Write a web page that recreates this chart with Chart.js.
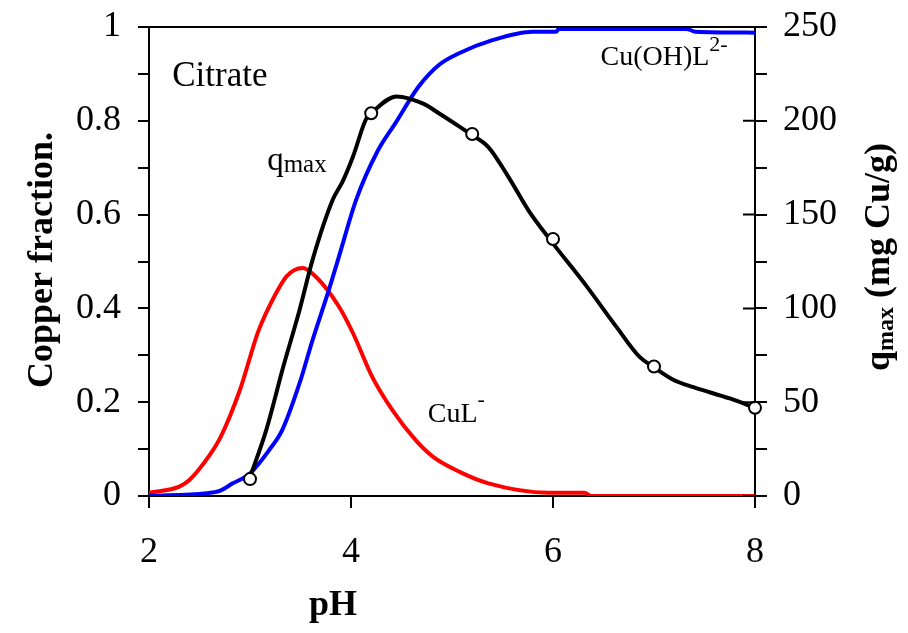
<!DOCTYPE html>
<html>
<head>
<meta charset="utf-8">
<script src="https://cdn.jsdelivr.net/npm/chart.js@4.4.0/dist/chart.umd.min.js"></script>
<style>
  html, body { margin: 0; padding: 0; background: #fff; }
</style>
</head>
<body>
<canvas id="speciationChart" width="908" height="633"></canvas>
<script>
// CuL- fraction vs pH (red)
const cuLPh   = [2.0, 2.3, 2.4, 2.6, 2.71, 2.9, 3.08, 3.19, 3.36, 3.44, 3.52, 3.65, 3.88, 4.02, 4.21, 4.41, 4.64, 4.81, 5.07, 5.36, 5.95, 6.31, 6.38, 7.0, 8.0];
const cuLFrac = [0.007, 0.02, 0.034, 0.087, 0.126, 0.226, 0.35, 0.404, 0.468, 0.482, 0.486, 0.468, 0.404, 0.347, 0.254, 0.183, 0.119, 0.084, 0.052, 0.027, 0.007, 0.007, 0.0, 0.0, 0.0];

// Cu(OH)L2- fraction vs pH (blue)
const cuOHLPh   = [2.0, 2.57, 2.70, 2.83, 3.0, 3.19, 3.32, 3.49, 3.62, 3.78, 3.88, 4.05, 4.26, 4.44, 4.67, 4.87, 5.07, 5.40, 5.80, 6.03, 6.06, 6.46, 7.32, 7.41, 8.0];
const cuOHLFrac = [0.0, 0.006, 0.011, 0.027, 0.048, 0.098, 0.141, 0.24, 0.333, 0.439, 0.51, 0.631, 0.734, 0.795, 0.873, 0.919, 0.944, 0.972, 0.99, 0.99, 0.996, 0.996, 0.996, 0.99, 0.988];

// qmax curve (black, right axis)
const qCurvePh  = [3.0, 3.16, 3.33, 3.49, 3.62, 3.82, 3.92, 4.02, 4.15, 4.22, 4.45, 4.72, 4.87, 5.07, 5.18, 5.36, 5.56, 5.76, 5.98, 6.33, 6.63, 6.86, 6.99, 7.19, 7.39, 7.75, 7.98];
const qCurveVal = [10, 35, 69, 99, 126, 158, 168, 181, 201, 205, 213, 209, 204, 197, 193, 186, 170, 152, 136, 112, 90, 74, 69, 62, 58, 52, 47.5];

// measured qmax points (open circles)
const qPointPh  = [3.0, 4.2, 5.2, 6.0, 7.0, 8.0];
const qPointVal = [9, 204, 193, 137, 69, 47];

const phTicks = [2, 4, 6, 8];

const SERIF = '"Liberation Serif", "Times New Roman", serif';

function toXY(xs, ys) {
  return xs.map((x, i) => ({ x: x, y: ys[i] }));
}

function runsWidth(ctx, runs) {
  let w = 0;
  runs.forEach(r => { ctx.font = r.font; w += ctx.measureText(r.text).width; });
  return w;
}

function drawRuns(ctx, x, y, runs) {
  let cx = x;
  runs.forEach(r => {
    ctx.font = r.font;
    ctx.fillText(r.text, cx, y + (r.dy || 0));
    cx += ctx.measureText(r.text).width;
  });
}

// titles, labels, top border and inner ticks on right axis
const decorPlugin = {
  id: 'decor',
  afterDraw(chart) {
    const ctx = chart.ctx;
    const area = chart.chartArea;
    const xs = chart.scales.x, ys = chart.scales.y, y2 = chart.scales.y2;
    ctx.save();
    ctx.strokeStyle = '#000';
    ctx.lineWidth = 2;
    ctx.beginPath();
    ctx.moveTo(area.left - 1, area.top);
    ctx.lineTo(area.right + 1, area.top);
    for (let v = 0; v <= 250; v += 50) {
      const py = y2.getPixelForValue(v);
      ctx.moveTo(area.right - 12, py);
      ctx.lineTo(area.right, py);
    }
    ctx.stroke();

    ctx.fillStyle = '#000';
    ctx.textBaseline = 'alphabetic';
    ctx.textAlign = 'left';

    // in-plot labels
    drawRuns(ctx, xs.getPixelForValue(2.23), ys.getPixelForValue(0.874),
      [{ text: 'Citrate', font: '35px ' + SERIF }]);
    drawRuns(ctx, xs.getPixelForValue(3.17), ys.getPixelForValue(0.695),
      [{ text: 'q', font: '33px ' + SERIF }, { text: 'max', font: '25px ' + SERIF, dy: 2 }]);
    drawRuns(ctx, xs.getPixelForValue(6.47), ys.getPixelForValue(0.919),
      [{ text: 'Cu(OH)L', font: '28px ' + SERIF }, { text: '2-', font: '22px ' + SERIF, dy: -14 }]);
    drawRuns(ctx, xs.getPixelForValue(4.76), ys.getPixelForValue(0.158),
      [{ text: 'CuL', font: '28px ' + SERIF }, { text: '-', font: '22px ' + SERIF, dy: -16 }]);

    // x title
    ctx.textAlign = 'center';
    ctx.font = 'bold 36px ' + SERIF;
    ctx.fillText('pH', 333, 615);

    // left title
    ctx.save();
    ctx.translate(52, 260);
    ctx.rotate(-Math.PI / 2);
    ctx.font = 'bold 36px ' + SERIF;
    ctx.fillText('Copper fraction.', 0, 0);
    ctx.restore();

    // right title with subscript
    ctx.save();
    ctx.translate(889, 257);
    ctx.rotate(-Math.PI / 2);
    ctx.textAlign = 'left';
    const rightRuns = [
      { text: 'q', font: 'bold 36px ' + SERIF },
      { text: 'max', font: 'bold 24px ' + SERIF, dy: 4 },
      { text: ' (mg Cu/g)', font: 'bold 36px ' + SERIF }
    ];
    drawRuns(ctx, -runsWidth(ctx, rightRuns) / 2, 0, rightRuns);
    ctx.restore();

    ctx.restore();
  }
};

const axisGrid = {
  drawOnChartArea: false,
  drawTicks: true,
  color: '#000',
  lineWidth: 2,
  tickWidth: 2,
  tickColor: '#000'
};

new Chart(document.getElementById('speciationChart'), {
  type: 'line',
  data: {
    datasets: [{
      label: 'qmax points',
      data: toXY(qPointPh, qPointVal),
      yAxisID: 'y2',
      showLine: false,
      pointStyle: 'circle',
      pointRadius: 6,
      pointBorderWidth: 2,
      pointBorderColor: '#000',
      pointBackgroundColor: '#fff',
      clip: false
    }, {
      label: 'qmax',
      data: toXY(qCurvePh, qCurveVal),
      yAxisID: 'y2',
      borderColor: '#000',
      borderWidth: 4,
      pointRadius: 0,
      cubicInterpolationMode: 'monotone'
    }, {
      label: 'Cu(OH)L2-',
      data: toXY(cuOHLPh, cuOHLFrac),
      yAxisID: 'y',
      borderColor: '#0000ff',
      borderWidth: 4,
      pointRadius: 0,
      cubicInterpolationMode: 'monotone'
    }, {
      label: 'CuL-',
      data: toXY(cuLPh, cuLFrac),
      yAxisID: 'y',
      borderColor: '#ff0000',
      borderWidth: 4,
      pointRadius: 0,
      cubicInterpolationMode: 'monotone'
    }]
  },
  options: {
    responsive: false,
    animation: false,
    layout: { padding: { top: 27, left: 0, right: 0, bottom: 0 } },
    plugins: {
      legend: { display: false },
      tooltip: { enabled: false }
    },
    scales: {
      x: {
        type: 'linear',
        min: 2,
        max: 8,
        afterBuildTicks(s) { s.ticks = phTicks.map(v => ({ value: v })); },
        ticks: {
          font: { family: SERIF, size: 36 },
          color: '#000',
          padding: 23,
          maxRotation: 0,
          callback: v => String(v)
        },
        grid: Object.assign({}, axisGrid, { tickLength: 12 }),
        border: { display: true, color: '#000', width: 2 },
        afterFit(s) { s.height = 137; s.paddingLeft = 0; s.paddingRight = 0; }
      },
      y: {
        position: 'left',
        min: 0,
        max: 1,
        ticks: {
          stepSize: 0.1,
          font: { family: SERIF, size: 36 },
          color: '#000',
          padding: 17,
          callback: v => {
            const k = Math.round(v * 10);
            if (k % 2 !== 0) return '';
            return k === 0 ? '0' : k === 10 ? '1' : (k / 10).toFixed(1);
          }
        },
        grid: Object.assign({}, axisGrid, { tickLength: 11 }),
        border: { display: true, color: '#000', width: 2 },
        afterFit(s) { s.width = 149; s.paddingTop = 0; s.paddingBottom = 0; }
      },
      y2: {
        position: 'right',
        min: 0,
        max: 250,
        ticks: {
          stepSize: 25,
          font: { family: SERIF, size: 36 },
          color: '#000',
          padding: 16,
          callback: v => (Math.round(v) % 50 === 0 ? String(Math.round(v)) : '')
        },
        grid: Object.assign({}, axisGrid, { tickLength: 12 }),
        border: { display: true, color: '#000', width: 2 },
        afterFit(s) { s.width = 153; s.paddingTop = 0; s.paddingBottom = 0; }
      }
    }
  },
  plugins: [decorPlugin]
});
</script>
</body>
</html>
